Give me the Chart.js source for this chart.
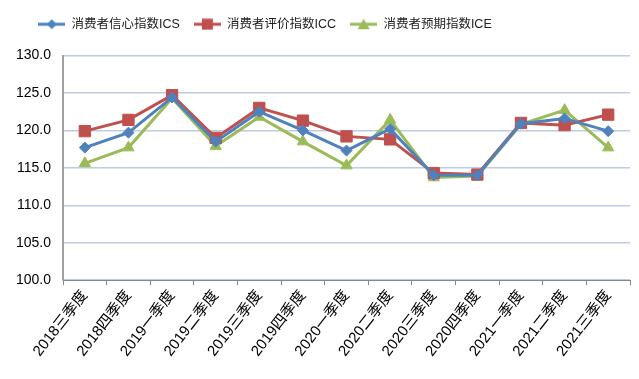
<!DOCTYPE html>
<html>
<head>
<meta charset="utf-8">
<script src="https://cdn.jsdelivr.net/npm/chart.js@4"></script>
<style>
    html, body { margin: 0; padding: 0; background: #fff; }
    #wrap { width: 639px; height: 379px; }
</style>
</head>
<body>
<div id="wrap"><canvas id="lineChart" width="639" height="379"></canvas></div>
<script>
const quarters = [
    '2018三季度', '2018四季度', '2019一季度', '2019二季度', '2019三季度', '2019四季度', '2020一季度',
    '2020二季度', '2020三季度', '2020四季度', '2021一季度', '2021二季度', '2021三季度'
];
const ics = [117.7, 119.7, 124.4, 118.5, 122.5, 120.0, 117.3, 120.2, 114.0, 114.0, 120.9, 121.6, 119.9];
const icc = [119.9, 121.4, 124.7, 119.0, 123.0, 121.3, 119.2, 118.8, 114.3, 114.1, 121.0, 120.7, 122.1];
const ice = [115.6, 117.7, 124.3, 117.9, 121.8, 118.5, 115.3, 121.4, 113.7, 113.9, 120.8, 122.7, 117.7];
const yTicks = [100, 105, 110, 115, 120, 125, 130];

const fontFamily = "'Liberation Sans', 'Noto Sans CJK SC', sans-serif";

// small canvas for legend: line with marker in the middle
const legendIcon = (color, style) => {
    const c = document.createElement('canvas');
    c.width = 27; c.height = 12;
    const g = c.getContext('2d');
    g.strokeStyle = color; g.fillStyle = color; g.lineWidth = 3;
    g.beginPath(); g.moveTo(0, 6); g.lineTo(27, 6); g.stroke();
    g.beginPath();
    if (style === 'rectRot') {
        g.moveTo(13.5, 1); g.lineTo(18.5, 6); g.lineTo(13.5, 11); g.lineTo(8.5, 6);
    } else if (style === 'rect') {
        g.rect(8, 0.5, 11, 11);
    } else {
        g.moveTo(13.5, 0.5); g.lineTo(19.5, 11); g.lineTo(7.5, 11);
    }
    g.closePath(); g.fill();
    return c;
};

const series = [
    { label: '消费者信心指数ICS', data: ics, color: '#4F81BD', style: 'rectRot', radius: 5.5 },
    { label: '消费者评价指数ICC', data: icc, color: '#C0504D', style: 'rect', radius: 8 },
    { label: '消费者预期指数ICE', data: ice, color: '#9BBB59', style: 'triangle', radius: 6.5 }
];

// Excel put the legend left of centre with extra room below it
const legendShift = {
    id: 'legendShift',
    afterInit: chart => {
        const fit = chart.legend.fit;
        chart.legend.fit = function () {
            fit.call(this);
            this.height += 15;
        };
    },
    afterLayout: chart => {
        chart.legend.left -= 53;
        chart.legend.right -= 53;
    }
};

const ctx = document.getElementById('lineChart').getContext('2d');
new Chart(ctx, {
    type: 'line',
    data: {
        labels: quarters,
        datasets: series.map(s => ({
            label: s.label,
            data: s.data,
            borderColor: s.color,
            backgroundColor: s.color,
            borderWidth: 3,
            pointStyle: s.style,
            pointRadius: s.radius,
            pointBorderWidth: 1,
            tension: 0
        }))
    },
    options: {
        responsive: false,
        animation: false,
        layout: { padding: { left: 4, right: 7, top: 4, bottom: 17 } },
        plugins: {
            legend: {
                position: 'top',
                labels: {
                    usePointStyle: true,
                    pointStyleWidth: 27,
                    color: '#222',
                    font: { family: fontFamily, size: 12.5 },
                    boxWidth: 27,
                    boxHeight: 12,
                    padding: 14,
                    generateLabels: chart => series.map((s, i) => ({
                        text: s.label,
                        pointStyle: legendIcon(s.color, s.style),
                        datasetIndex: i,
                        fontColor: '#222',
                        hidden: false
                    }))
                }
            },
            tooltip: { enabled: false }
        },
        scales: {
            x: {
                offset: true,
                grid: {
                    display: true,
                    offset: true,
                    drawOnChartArea: false,
                    drawTicks: true,
                    tickLength: 5,
                    color: '#868686'
                },
                border: { color: '#868686', width: 1 },
                ticks: {
                    autoSkip: false,
                    minRotation: 52,
                    maxRotation: 52,
                    padding: 2,
                    color: '#000',
                    font: { family: fontFamily, size: 15 }
                }
            },
            y: {
                min: 100,
                max: 130,
                afterBuildTicks: axis => { axis.ticks = yTicks.map(v => ({ value: v })); },
                grid: { color: '#B9CDE5', lineWidth: 1.5, drawTicks: false },
                border: { color: '#A0A0A0', width: 2 },
                ticks: {
                    padding: 12,
                    color: '#000',
                    font: { family: fontFamily, size: 14 },
                    callback: v => Number(v).toFixed(1)
                }
            }
        }
    },
    plugins: [legendShift]
});
</script>
</body>
</html>
